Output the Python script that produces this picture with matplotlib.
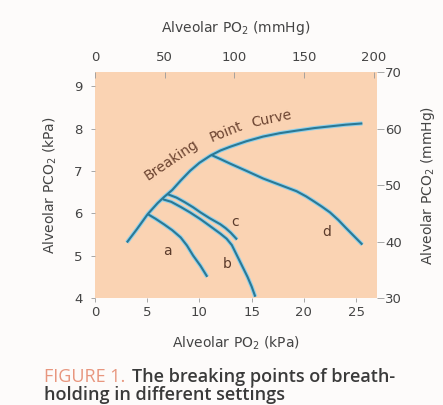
import matplotlib.pyplot as plt

plt.rcParams['font.family'] = ['DejaVu Sans']

# ---------------------------------------------------------
# Data (kPa)
# ---------------------------------------------------------
bp_x = [3.05, 4.0, 5.05, 6.0, 6.6, 7.4, 8.2, 9.1, 10.0, 11.05, 12.0, 12.95,
        14.5, 16.1, 17.7, 19.3, 21.0, 22.5, 24.0, 25.6]
bp_y = [5.31, 5.62, 5.98, 6.24, 6.38, 6.55, 6.77, 7.0, 7.19, 7.36, 7.48, 7.57,
        7.70, 7.81, 7.89, 7.95, 8.01, 8.05, 8.09, 8.12]

a_x = [5.05, 5.8, 6.6, 7.4, 8.2, 8.8, 9.4, 10.1, 10.75]
a_y = [5.98, 5.87, 5.74, 5.6, 5.43, 5.24, 5.0, 4.76, 4.5]

b_x = [6.5, 7.3, 8.2, 9.1, 10.1, 11.0, 12.0, 12.6, 13.1, 13.6, 14.1, 14.6,
       15.0, 15.35]
b_y = [6.33, 6.27, 6.15, 6.02, 5.86, 5.7, 5.52, 5.4, 5.25, 5.0, 4.75, 4.5,
       4.27, 4.03]

c_x = [6.95, 7.8, 8.6, 9.4, 10.1, 11.0, 12.0, 12.5, 13.0, 13.6]
c_y = [6.45, 6.37, 6.26, 6.14, 6.02, 5.88, 5.74, 5.65, 5.54, 5.38]

d_x = [11.1, 12.0, 12.95, 14.5, 16.1, 17.7, 19.3, 20.2, 20.9, 21.7, 22.5,
       23.3, 24.0, 24.8, 25.6]
d_y = [7.38, 7.28, 7.17, 7.0, 6.82, 6.67, 6.52, 6.4, 6.29, 6.16, 6.02,
       5.84, 5.66, 5.46, 5.26]

curve_labels = ["a", "b", "c", "d"]
label_x = [6.95, 12.7, 13.4, 22.2]
label_y = [5.1, 4.8, 5.8, 5.55]

K = 7.5  # kPa -> mmHg

# ---------------------------------------------------------
# Figure
# ---------------------------------------------------------
fig = plt.figure(figsize=(4.43, 4.05), dpi=100)
fig.patch.set_facecolor("#fdfbfa")
ax = fig.add_axes([0.2144, 0.2642, 0.6366, 0.558])
ax.set_facecolor("#fad3b3")
for s in ax.spines.values():
    s.set_visible(False)

ax.set_xlim(0, 27)
ax.set_ylim(4, 70 / K)

line_col = "#2a7895"
glow_col = "#8fd0ea"
for xs, ys in [(bp_x, bp_y), (a_x, a_y), (b_x, b_y), (c_x, c_y), (d_x, d_y)]:
    ax.plot(xs, ys, color=glow_col, lw=3.0, solid_capstyle="butt",
            solid_joinstyle="round", zorder=2)
    ax.plot(xs, ys, color=line_col, lw=1.5, solid_capstyle="butt",
            solid_joinstyle="round", zorder=3)

for t, x, y in zip(curve_labels, label_x, label_y):
    ax.text(x, y, t, fontsize=10, color="#5b3b2b", ha="center", va="center")

# Breaking Point Curve text, following the curve
txt_col = "#6b4330"
ax.text(7.3, 7.25, "Breaking", fontsize=10, color=txt_col, rotation=34,
        ha="center", va="center", rotation_mode="anchor")
ax.text(12.6, 7.93, "Point", fontsize=10, color=txt_col, rotation=22,
        ha="center", va="center", rotation_mode="anchor")
ax.text(16.9, 8.22, "Curve", fontsize=10, color=txt_col, rotation=12,
        ha="center", va="center", rotation_mode="anchor")

tick_col = "#999999"
lab_col = "#444444"
fs_tick = 9.5
fs_lab = 10
ax.set_xticks([0, 5, 10, 15, 20, 25])
ax.set_yticks([4, 5, 6, 7, 8, 9])
ax.tick_params(axis="both", length=3, width=0.6, color=tick_col,
               labelsize=fs_tick, labelcolor=lab_col, pad=3)
ax.tick_params(axis="y", pad=6)
ax.set_xlabel("Alveolar PO$_2$ (kPa)", fontsize=fs_lab, color=lab_col, labelpad=11)
ax.set_ylabel("Alveolar PCO$_2$ (kPa)", fontsize=fs_lab, color=lab_col, labelpad=11)

# top axis in mmHg
top = ax.secondary_xaxis("top", functions=(lambda v: v * K, lambda v: v / K))
top.set_xticks([0, 50, 100, 150, 200])
top.tick_params(length=4, width=0.6, color=tick_col, direction="in",
                labelsize=fs_tick, labelcolor=lab_col, pad=5.5)
top.spines["top"].set_visible(False)
top.set_xlabel("Alveolar PO$_2$ (mmHg)", fontsize=fs_lab, color=lab_col, labelpad=14)

# right axis in mmHg
right = ax.secondary_yaxis("right", functions=(lambda v: v * K, lambda v: v / K))
right.set_yticks([30, 40, 50, 60, 70])
right.tick_params(length=5, width=0.6, color=tick_col, labelsize=fs_tick,
                  labelcolor=lab_col, pad=1)
right.spines["right"].set_visible(False)
right.set_ylabel("Alveolar PCO$_2$ (mmHg)", fontsize=fs_lab, color=lab_col, labelpad=12)

# caption
cap_font = ['Open Sans', 'DejaVu Sans']
fig.canvas.draw()
r = fig.canvas.get_renderer()
cap1 = fig.text(44 / 443, 1 - 377 / 405, "FIGURE 1.", fontsize=13, color="#e8967e",
                family=cap_font, ha="left", va="center")
bb = cap1.get_window_extent(renderer=r)
fig.text((bb.x1 + 7) / fig.bbox.width, 1 - 377 / 405, "The breaking points of breath-",
         fontsize=13, color="#3a3a3a", fontweight="semibold", family=cap_font,
         ha="left", va="center")
fig.text(44 / 443, 1 - 395 / 405, "holding in different settings", fontsize=13,
         color="#3a3a3a", fontweight="semibold", family=cap_font, ha="left", va="center")

fig.savefig("out.png", dpi=100, facecolor=fig.get_facecolor())
